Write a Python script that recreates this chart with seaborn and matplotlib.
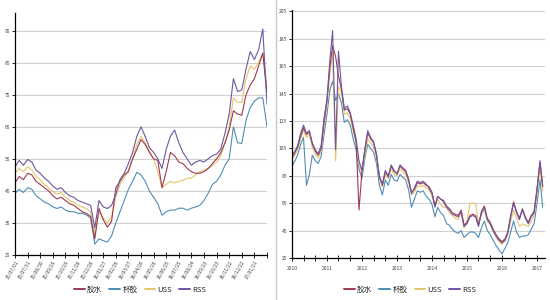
import numpy as np
import pandas as pd
import matplotlib
matplotlib.use("Agg")
import matplotlib.pyplot as plt
import matplotlib.dates as mdates
from matplotlib.lines import Line2D
import seaborn as sns

sns.set_theme(style="white")
plt.rcParams['font.family'] = ['Noto Sans CJK SC', 'DejaVu Sans']

series_names = ["胶水", "杯胶", "USS", "RSS"]
colors = {"胶水": "#9E3A4E", "杯胶": "#4F8DB5", "USS": "#E3C56A", "RSS": "#6E55A3"}

# ---- left chart: 10-day samples from 2015-07-01 ----
left_start = "2015-07-01"
left_jiaoshui = [47.5, 49.5, 48.5, 50.5, 50.0, 48.0, 47.0, 46.0, 45.0, 43.5,
                 42.5, 43.0, 42.0, 41.0, 40.5, 39.5, 38.5, 38.0, 37.0, 30.0,
                 39.5, 36.0, 33.7, 35.5, 46.0, 48.0, 50.0, 51.0, 55.0, 58.0,
                 61.0, 59.5, 57.0, 55.0, 54.5, 46.0, 51.0, 57.0, 56.0, 54.0,
                 53.5, 52.0, 51.0, 50.5, 50.5, 51.0, 52.0, 53.5, 55.0, 57.0,
                 60.0, 64.0, 70.0, 69.0, 68.6, 75.0, 78.0, 80.0, 84.0, 88.0,
                 75.0]
left_beijiao = [44.3, 45.5, 44.5, 46.0, 45.5, 43.5, 42.5, 41.5, 41.0, 40.0,
                39.5, 40.0, 39.0, 38.5, 38.5, 38.0, 38.0, 37.5, 36.5, 28.4,
                30.0, 29.5, 29.0, 31.0, 35.0, 38.5, 42.0, 45.5, 48.0, 50.8,
                50.0, 48.0, 45.0, 43.0, 41.0, 37.4, 38.5, 39.0, 39.0, 39.6,
                39.6, 39.0, 39.6, 40.0, 40.5, 42.0, 44.3, 47.0, 48.0, 50.0,
                53.0, 55.0, 65.0, 60.0, 59.8, 67.0, 71.0, 73.0, 74.0, 74.0,
                65.0]
left_uss = [50.5, 52.0, 51.0, 52.5, 51.5, 49.5, 48.5, 47.0, 46.0, 44.8,
            44.0, 44.5, 43.0, 42.0, 41.5, 40.5, 40.0, 39.5, 38.5, 31.5,
            38.5, 36.5, 35.0, 37.0, 43.0, 47.0, 49.0, 51.5, 55.0, 59.5,
            62.0, 60.0, 57.5, 55.0, 51.0, 46.0, 47.0, 48.0, 47.5, 48.0,
            48.3, 49.0, 49.0, 50.0, 51.0, 51.5, 52.0, 53.0, 54.0, 56.0,
            60.0, 65.0, 74.0, 72.6, 72.6, 80.0, 84.0, 83.0, 85.0, 88.0,
            78.0]
left_rss = [52.5, 54.5, 53.0, 54.8, 54.0, 51.5, 50.5, 49.0, 48.0, 46.5,
            45.5, 46.0, 44.5, 43.5, 43.0, 42.0, 41.5, 41.0, 40.5, 33.5,
            42.0, 40.0, 39.5, 40.5, 44.0, 48.5, 50.5, 53.5, 57.0, 62.0,
            65.0, 62.0, 58.5, 57.0, 55.0, 52.0, 58.0, 62.0, 64.0, 60.0,
            57.0, 55.0, 53.0, 54.0, 54.5, 54.0, 55.0, 56.0, 56.5, 58.0,
            63.0, 69.0, 80.0, 76.0, 76.5, 83.0, 88.5, 86.0, 89.0, 95.5,
            72.0]
left_yticks = [25, 35, 45, 55, 65, 75, 85, 95]

# ---- right chart: monthly from 2010-01 ----
right_start = "2010-01-01"
right_jiaoshui = [98, 102, 106, 114, 120, 115, 117, 108, 103, 100, 105, 124,
                  140, 165, 180, 172, 158, 148, 133, 134, 130, 120, 110, 60,
                  88, 104, 116, 112, 109, 100, 85, 78, 88, 85, 92, 88,
                  87, 92, 90, 88, 82, 73, 75, 80, 79, 80, 78, 77,
                  73, 63, 70, 68, 67, 63, 61, 58, 57, 56, 60, 49,
                  51, 56, 57, 56, 49, 59, 63, 54, 51, 46, 42, 39,
                  37, 39, 44, 56, 66, 59, 54, 61, 55, 51, 56, 59,
                  76, 95, 77]
right_beijiao = [92, 96, 100, 108, 113, 78, 86, 100, 96, 94, 99, 115,
                 130, 148, 154, 140, 145, 138, 124, 126, 122, 112, 104, 90,
                 83, 98, 108, 105, 102, 94, 78, 71, 82, 78, 86, 82,
                 81, 86, 84, 82, 75, 62, 68, 74, 73, 74, 70, 68,
                 64, 55, 62, 58, 56, 50, 49, 46, 44, 43, 45, 40,
                 42, 44, 44, 43, 40, 47, 52, 45, 42, 38, 34, 31,
                 28, 32, 36, 44, 52, 44, 40, 41, 41, 42, 46, 50,
                 65, 82, 62]
right_uss = [97, 100, 104, 112, 118, 113, 115, 106, 101, 98, 103, 121,
             136, 160, 175, 96, 150, 146, 130, 131, 127, 118, 108, 94,
             87, 100, 112, 109, 106, 98, 83, 77, 86, 83, 90, 86,
             85, 90, 88, 86, 80, 71, 73, 78, 77, 78, 76, 75,
             70, 63, 68, 64, 62, 62, 58, 56, 54, 53, 58, 47,
             52, 65, 65, 65, 50, 57, 60, 52, 49, 44, 40, 37,
             35, 37, 42, 52, 60, 54, 48, 50, 49, 48, 52, 56,
             72, 90, 74]
right_rss = [100, 103, 107, 116, 122, 116, 118, 109, 104, 101, 107, 127,
             141, 170, 191, 104, 176, 150, 134, 136, 131, 122, 112, 96,
             89, 105, 118, 113, 110, 101, 84, 79, 89, 84, 93, 89,
             86, 93, 91, 89, 83, 72, 76, 81, 80, 81, 79, 76,
             72, 62, 70, 68, 66, 62, 60, 57, 56, 55, 59, 48,
             50, 55, 56, 55, 48, 58, 62, 53, 50, 45, 41, 38,
             36, 38, 43, 55, 65, 58, 53, 60, 54, 50, 55, 58,
             75, 96, 78]
right_yticks = [25, 45, 65, 85, 105, 125, 145, 165, 185, 205]
right_years = [2010, 2011, 2012, 2013, 2014, 2015, 2016, 2017]


def long_df(dates, data):
    frames = []
    for name, vals in data.items():
        frames.append(pd.DataFrame({"date": dates, "value": vals, "series": name}))
    return pd.concat(frames, ignore_index=True)


left_dates = pd.date_range(left_start, periods=len(left_rss), freq="10D")
right_dates = pd.date_range(right_start, periods=len(right_rss), freq="MS")

left_df = long_df(left_dates, {"杯胶": left_beijiao, "USS": left_uss,
                               "胶水": left_jiaoshui, "RSS": left_rss})
right_df = long_df(right_dates, {"杯胶": right_beijiao, "USS": right_uss,
                                 "胶水": right_jiaoshui, "RSS": right_rss})

W, H = 550, 300
fig = plt.figure(figsize=(5.5, 3.0), dpi=100)
fig.patch.set_facecolor("white")


def px_axes(x0, y0, x1, y1):
    return fig.add_axes([x0 / W, 1 - y1 / H, (x1 - x0) / W, (y1 - y0) / H])


axL = px_axes(15, 13, 267, 255)
axR = px_axes(292, 10, 545, 258)

for ax, df in ((axL, left_df), (axR, right_df)):
    sns.lineplot(data=df, x="date", y="value", hue="series",
                 hue_order=["杯胶", "USS", "胶水", "RSS"], palette=colors,
                 linewidth=0.8, ax=ax, legend=False, sort=False)
    ax.set_xlabel("")
    ax.set_ylabel("")
    ax.set_facecolor("white")
    ax.grid(axis="y", color="#D0D0D0", linewidth=0.8)
    ax.grid(axis="x", visible=False)
    for s in ("top", "right"):
        ax.spines[s].set_visible(False)
    for s in ("left", "bottom"):
        ax.spines[s].set_visible(True)
        ax.spines[s].set_color("black")
        ax.spines[s].set_linewidth(0.9)
    ax.tick_params(axis="y", which="both", left=True, length=2, width=0.6,
                   direction="out", labelsize=3.6, labelcolor="#444444", pad=1.5,
                   color="black")
    ax.tick_params(axis="x", which="both", bottom=True, length=5, width=0.6,
                   direction="inout", labelsize=3.6, labelcolor="#444444",
                   color="black")

# left axis setup
t0 = pd.Timestamp(left_start)
axL.set_xlim(t0, t0 + pd.Timedelta(days=600))
axL.set_ylim(25, 100.5)
axL.set_yticks(left_yticks)
lt = [t0 + pd.Timedelta(days=30 * k) for k in range(21)]
axL.set_xticks(lt)
axL.set_xticklabels([d.strftime("%y/%m/%d") if k < 20 else "" for k, d in enumerate(lt)],
                    rotation=60, ha="right", rotation_mode="anchor")
axL.tick_params(axis="x", pad=1)

# right axis setup
r0 = pd.Timestamp(right_start)
axR.set_xlim(r0, pd.Timestamp("2017-03-25"))
axR.set_ylim(25, 206)
axR.set_yticks(right_yticks)
rticks = pd.date_range("2010-01-01", "2017-01-01", freq="4MS")
axR.set_xticks(rticks)
axR.set_xticklabels([str(d.year) if d.month == 1 else "" for d in rticks])
axR.tick_params(axis="x", pad=3)

# legends
handles = [Line2D([], [], color=colors[n], linewidth=1.4) for n in series_names]
for cx in (140 / W, 410 / W):
    fig.legend(handles, series_names, loc="center", bbox_to_anchor=(cx, 1 - 290 / H),
               ncol=4, frameon=False, fontsize=5.5, handlelength=1.4,
               handletextpad=0.3, columnspacing=0.9, borderaxespad=0)

# separator between the two panels
fig.add_artist(Line2D([276 / W, 276 / W], [0, 1], color="#C8C8C8", linewidth=1.0,
                      transform=fig.transFigure))

fig.savefig("out.png", dpi=100, facecolor="white")
